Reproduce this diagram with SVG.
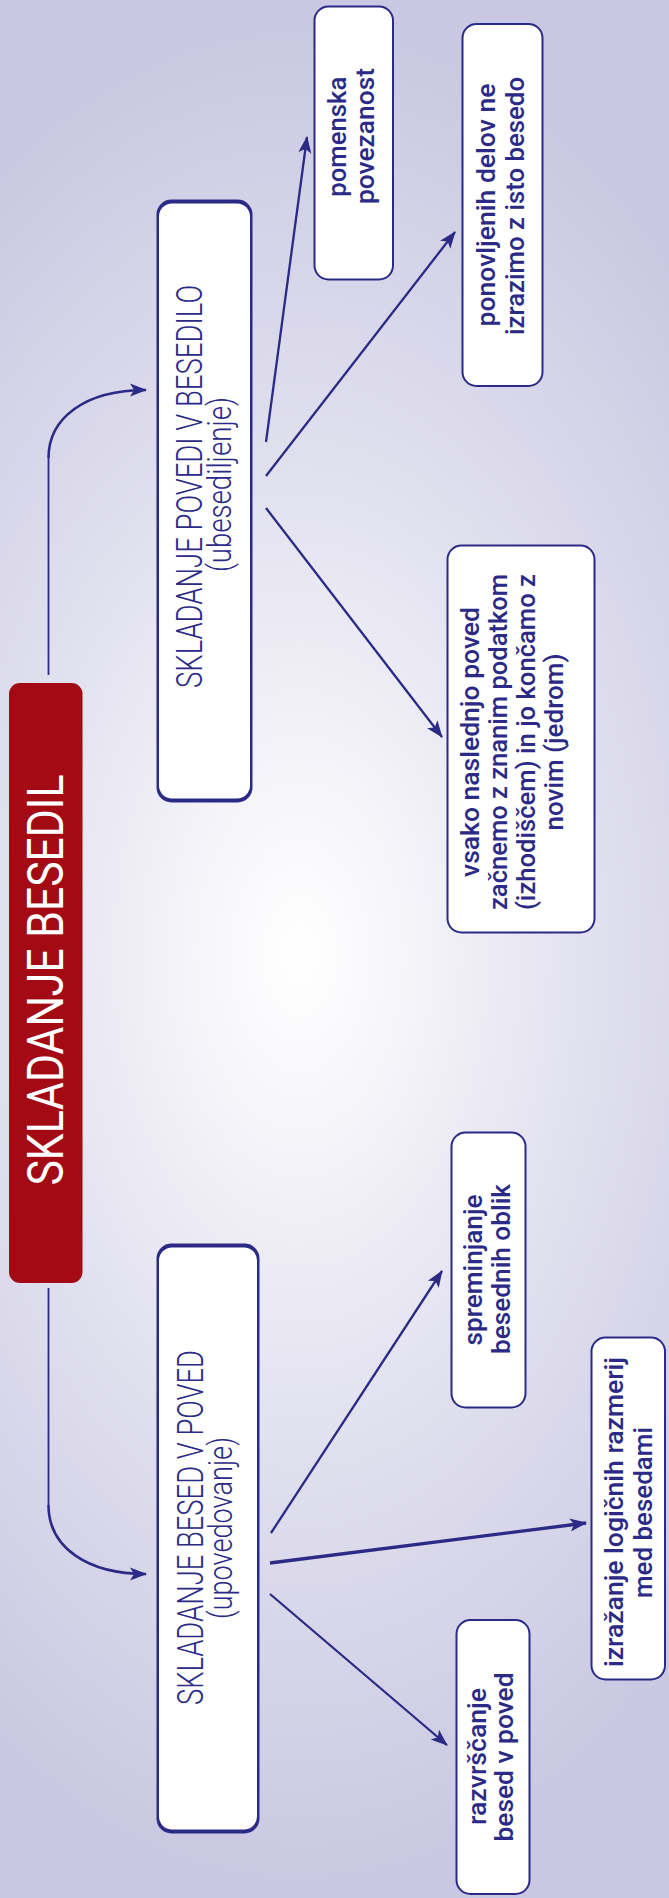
<svg xmlns="http://www.w3.org/2000/svg" width="669" height="1898" viewBox="0 0 669 1898">
<style>
.lf{font-family:Roboto,"Liberation Sans",sans-serif;font-size:25.5px;font-weight:500;fill:#2b2a86;text-anchor:middle}
.mt{font-family:Roboto,"Liberation Sans",sans-serif;font-weight:300;fill:#2b2a86;text-anchor:middle}
.ttl{font-family:Roboto,"Liberation Sans",sans-serif;font-size:50px;fill:#ffffff;text-anchor:middle}
.box{fill:#ffffff;stroke:#2b2a86;stroke-width:2}
.cn{fill:none;stroke:#2b2a86;stroke-width:2.3}
</style>
<defs>
<radialGradient id="bg" gradientUnits="userSpaceOnUse" cx="300" cy="955" r="950" gradientTransform="translate(300 955) scale(0.6 1) translate(-300 -955)">
<stop offset="0" stop-color="#ffffff"/>
<stop offset="0.12" stop-color="#f9f9fc"/>
<stop offset="0.5" stop-color="#e2e1ef"/>
<stop offset="1" stop-color="#c9c7e1"/>
</radialGradient>
<marker id="ah" markerUnits="userSpaceOnUse" markerWidth="20" markerHeight="16" viewBox="-18 -8 20 16" refX="0" refY="0" orient="auto">
<path d="M1,0 L-16,-6.5 L-12,0 L-16,6.5 Z" fill="#2b2a86"/>
</marker>
</defs>
<rect x="0" y="0" width="669" height="1898" fill="url(#bg)"/>

<g id="connectors">
<path class="cn" style="stroke-width:1.8" d="M48.5,675 L48.5,458"/>
<path class="cn" style="stroke-width:2.6" d="M48.5,458 C48.5,418 85,390 146,390" marker-end="url(#ah)"/>
<path class="cn" style="stroke-width:1.8" d="M48.5,1288 L48.5,1505"/>
<path class="cn" style="stroke-width:2.6" d="M48.5,1505 C48.5,1548 88,1574 146,1574" marker-end="url(#ah)"/>
<path class="cn" d="M266,442 L307,137" marker-end="url(#ah)"/>
<path class="cn" d="M266,476 L455,232" marker-end="url(#ah)"/>
<path class="cn" d="M266,508 L442,737" marker-end="url(#ah)"/>
<path class="cn" d="M271,1533 L442,1271" marker-end="url(#ah)"/>
<path class="cn" style="stroke-width:3.4" d="M270,1563 L586,1523" marker-end="url(#ah)"/>
<path class="cn" d="M270,1594 L447,1745" marker-end="url(#ah)"/>
</g>

<g id="root">
<rect x="9" y="683" width="73.5" height="600" rx="11" fill="#a30a13"/>
<text class="ttl" transform="translate(63 980) rotate(-90)" textLength="411" lengthAdjust="spacingAndGlyphs">SKLADANJE BESEDIL</text>
</g>

<g id="besedilo">
<rect x="156.5" y="199.5" width="96" height="603" rx="15" fill="#2b2a86"/>
<rect x="159" y="203.5" width="91" height="595" rx="13" fill="#ffffff"/>
<text class="mt" style="font-size:36px" transform="translate(201.5 486.5) rotate(-90)" textLength="403" lengthAdjust="spacingAndGlyphs">SKLADANJE POVEDI V BESEDILO</text>
<text class="mt" style="font-size:34px" transform="translate(231 484.5) rotate(-90)" textLength="175" lengthAdjust="spacingAndGlyphs">(ubesediljenje)</text>
</g>

<g id="poved">
<rect x="156.5" y="1243.5" width="103" height="590" rx="15" fill="#2b2a86"/>
<rect x="159" y="1247.5" width="98" height="582" rx="13" fill="#ffffff"/>
<text class="mt" style="font-size:36px" transform="translate(202.7 1527.5) rotate(-90)" textLength="355" lengthAdjust="spacingAndGlyphs">SKLADANJE BESED V POVED</text>
<text class="mt" style="font-size:34px" transform="translate(231.5 1528) rotate(-90)" textLength="182" lengthAdjust="spacingAndGlyphs">(upovedovanje)</text>
</g>

<g id="pomenska">
<rect class="box" x="314.5" y="6.5" width="78.5" height="273" rx="14"/>
<text class="lf" transform="translate(346 136.7) rotate(-90)" textLength="120" lengthAdjust="spacingAndGlyphs">pomenska</text>
<text class="lf" transform="translate(374 136) rotate(-90)" textLength="136" lengthAdjust="spacingAndGlyphs">povezanost</text>
</g>

<g id="ponovljenih">
<rect class="box" x="462.5" y="24" width="80" height="362" rx="14"/>
<text class="lf" transform="translate(495 205) rotate(-90)" textLength="243" lengthAdjust="spacingAndGlyphs">ponovljenih delov ne</text>
<text class="lf" transform="translate(523.5 206) rotate(-90)" textLength="258" lengthAdjust="spacingAndGlyphs">izrazimo z isto besedo</text>
</g>

<g id="vsako">
<rect class="box" x="447.5" y="545.5" width="147" height="387" rx="14"/>
<text class="lf" transform="translate(478.5 742) rotate(-90)" textLength="270" lengthAdjust="spacingAndGlyphs">vsako naslednjo poved</text>
<text class="lf" transform="translate(506.5 742) rotate(-90)" textLength="336" lengthAdjust="spacingAndGlyphs">začnemo z znanim podatkom</text>
<text class="lf" transform="translate(534.5 742) rotate(-90)" textLength="336" lengthAdjust="spacingAndGlyphs">(izhodiščem) in jo končamo z</text>
<text class="lf" transform="translate(562.5 742) rotate(-90)" textLength="177" lengthAdjust="spacingAndGlyphs">novim (jedrom)</text>
</g>

<g id="spreminjanje">
<rect class="box" x="451.5" y="1132.5" width="74" height="275" rx="14"/>
<text class="lf" transform="translate(482 1270) rotate(-90)" textLength="151" lengthAdjust="spacingAndGlyphs">spreminjanje</text>
<text class="lf" transform="translate(510 1269) rotate(-90)" textLength="170" lengthAdjust="spacingAndGlyphs">besednih oblik</text>
</g>

<g id="izrazanje">
<rect class="box" x="591.5" y="1337.5" width="73.5" height="342" rx="14"/>
<text class="lf" transform="translate(623 1512) rotate(-90)" textLength="310" lengthAdjust="spacingAndGlyphs">izražanje logičnih razmerij</text>
<text class="lf" transform="translate(652 1512.5) rotate(-90)" textLength="171" lengthAdjust="spacingAndGlyphs">med besedami</text>
</g>

<g id="razvrscanje">
<rect class="box" x="456.5" y="1620" width="73" height="274" rx="14"/>
<text class="lf" transform="translate(486 1756.5) rotate(-90)" textLength="137" lengthAdjust="spacingAndGlyphs">razvrščanje</text>
<text class="lf" transform="translate(513.3 1757) rotate(-90)" textLength="169" lengthAdjust="spacingAndGlyphs">besed v poved</text>
</g>
</svg>
